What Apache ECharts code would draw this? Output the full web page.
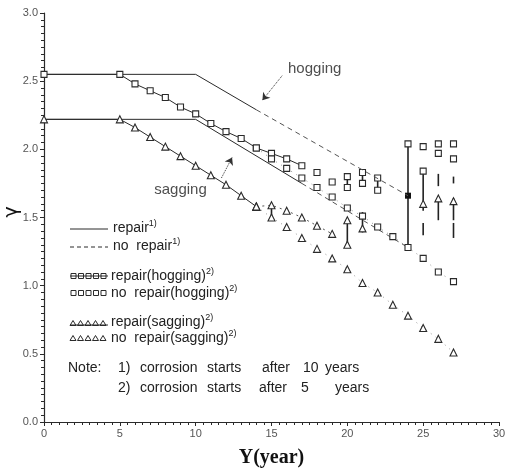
<!DOCTYPE html>
<html>
<head>
<meta charset="utf-8">
<script src="https://cdn.jsdelivr.net/npm/echarts@6/dist/echarts.min.js"></script>
<style>
  html, body { margin: 0; padding: 0; background: #fff; }
  #chart { width: 506px; height: 469px; }
</style>
</head>
<body>
<div id="chart"></div>
<script>
// 10-year corrosion lines (repair / no repair)
const hog10X = [0, 10, 14, 24];
const hog10Y = [2.55, 2.55, 2.29, 1.66];
const sag10X = [0, 10, 17, 24];
const sag10Y = [2.22, 2.22, 1.75, 1.28];

// 5-year corrosion, hogging (squares)
const sqRepX = [0, 5, 6, 7, 8, 9, 10, 11, 12, 13, 14, 15, 16, 17];
const sqRepY = [2.55, 2.55, 2.48, 2.43, 2.38, 2.31, 2.26, 2.19, 2.13, 2.08, 2.01, 1.97, 1.93, 1.88];
const sqRepLateX = [18, 19, 20, 20, 21, 21, 22, 22, 24, 25, 25, 26, 26, 27, 27];
const sqRepLateY = [1.83, 1.76, 1.80, 1.72, 1.83, 1.75, 1.79, 1.70, 2.04, 2.02, 1.84, 2.04, 1.97, 2.04, 1.93];
const sqNoX = [14, 15, 16, 17, 18, 19, 20, 21, 22, 23, 24, 25, 26, 27];
const sqNoY = [2.01, 1.93, 1.86, 1.79, 1.72, 1.65, 1.57, 1.51, 1.43, 1.36, 1.28, 1.20, 1.10, 1.03];

// 5-year corrosion, sagging (triangles)
const triRepX = [0, 5, 6, 7, 8, 9, 10, 11, 12, 13, 14];
const triRepY = [2.22, 2.22, 2.16, 2.09, 2.02, 1.95, 1.88, 1.81, 1.74, 1.66, 1.58];
const triRep2X = [14, 15, 16, 17, 18, 19];
const triRep2Y = [1.58, 1.59, 1.55, 1.50, 1.44, 1.38];
const triRepLateX = [20, 20, 21, 25, 26, 27];
const triRepLateY = [1.48, 1.30, 1.42, 1.60, 1.64, 1.62];
const triNoX = [14, 15, 16, 17, 18, 19, 20, 21, 22, 23, 24, 25, 26, 27];
const triNoY = [1.58, 1.50, 1.43, 1.35, 1.27, 1.20, 1.12, 1.02, 0.95, 0.86, 0.78, 0.69, 0.61, 0.51];

// filled points and repair bars [year, low, high]
const filledX = [15, 24, 24];
const filledY = [1.97, 1.66, 1.28];
const repairBars = [
  [15, 1.49, 1.59], [20, 1.30, 1.48], [20, 1.70, 1.80], [21, 1.39, 1.54], [21, 1.75, 1.83],
  [22, 1.70, 1.79], [24, 1.28, 2.05], [25, 1.55, 1.84], [25, 1.37, 1.46], [26, 1.73, 1.82],
  [26, 1.48, 1.62], [27, 1.75, 1.80], [27, 1.48, 1.64], [27, 1.35, 1.46]
];

const xTicks = [0, 5, 10, 15, 20, 25, 30];
const yTicks = [0.0, 0.5, 1.0, 1.5, 2.0, 2.5, 3.0];

const ink = '#2a2a2a';
const zip = (xs, ys) => xs.map((x, i) => [x, ys[i]]);

const chart = echarts.init(document.getElementById('chart'));

const hollow = { color: '#fff', borderColor: ink, borderWidth: 1.1, opacity: 1 };

// legend drawn by hand (layout of the original figure)
const legendEls = [];
const txt = (x, y, s, size) => ({
  type: 'text', x: x, y: y,
  style: {
    text: s, fill: '#222', verticalAlign: 'middle',
    font: (size || 14) + 'px "Liberation Sans", sans-serif',
    rich: {
      t: { fontSize: size || 14, fontFamily: 'Liberation Sans', fill: '#222', lineHeight: 18 },
      s: { fontSize: 9, fontFamily: 'Liberation Sans', fill: '#222', verticalAlign: 'top', lineHeight: 18 }
    }
  }
});
// y axis title (gamma, turned on its side as in the original)
legendEls.push({ type: 'text', x: 12, y: 212, rotation: Math.PI / 2,
  style: { text: 'γ', fill: '#111', font: '19px "DejaVu Sans", sans-serif', align: 'center', verticalAlign: 'middle' } });
legendEls.push({ type: 'line', shape: { x1: 70, y1: 229, x2: 108, y2: 229 }, style: { stroke: ink, lineWidth: 1 } });
legendEls.push(txt(113, 228, '{t|repair}{s|1)}'));
legendEls.push({ type: 'line', shape: { x1: 70, y1: 247, x2: 108, y2: 247 }, style: { stroke: ink, lineWidth: 1, lineDash: [4, 3] } });
legendEls.push(txt(113, 246, '{t|no  repair}{s|1)}'));
[276, 293].forEach((y, r) => {
  if (r === 0) legendEls.push({ type: 'line', shape: { x1: 70, y1: y, x2: 108, y2: y }, style: { stroke: ink, lineWidth: 1 } });
  for (let i = 0; i < 5; i++) {
    legendEls.push({ type: 'rect', shape: { x: 71 + i * 7.5, y: y - 2.5, width: 5, height: 5 }, style: { fill: 'none', stroke: ink, lineWidth: 1 } });
  }
});
legendEls.push(txt(111, 276, '{t|repair(hogging)}{s|2)}'));
legendEls.push(txt(111, 293, '{t|no  repair(hogging)}{s|2)}'));
[323, 338].forEach((y, r) => {
  if (r === 0) legendEls.push({ type: 'line', shape: { x1: 70, y1: y + 2, x2: 108, y2: y + 2 }, style: { stroke: ink, lineWidth: 1 } });
  for (let i = 0; i < 5; i++) {
    const cx = 73 + i * 7.5;
    legendEls.push({ type: 'polygon', shape: { points: [[cx, y - 2.5], [cx - 3, y + 2.5], [cx + 3, y + 2.5]] }, style: { fill: 'none', stroke: ink, lineWidth: 1 } });
  }
});
legendEls.push(txt(111, 322, '{t|repair(sagging)}{s|2)}'));
legendEls.push(txt(111, 338, '{t|no  repair(sagging)}{s|2)}'));
// note lines, words spread out like the original
[['Note:', 68], ['1)', 118], ['corrosion', 140], ['starts', 207], ['after', 262], ['10', 303], ['years', 325]]
  .forEach(w => legendEls.push(txt(w[1], 368, '{t|' + w[0] + '}')));
[['2)', 118], ['corrosion', 140], ['starts', 207], ['after', 259], ['5', 301], ['years', 335]]
  .forEach(w => legendEls.push(txt(w[1], 388, '{t|' + w[0] + '}')));

const option = {
  backgroundColor: '#fff',
  animation: false,
  grid: { left: 44, right: 7, top: 13, bottom: 47, outerBoundsMode: 'none' },
  xAxis: {
    type: 'value', min: 0, max: 30, interval: 5,
    name: 'Y(year)', nameLocation: 'middle', nameGap: 26,
    nameTextStyle: { fontFamily: 'Liberation Serif', fontWeight: 'bold', fontSize: 20, color: '#111' },
    axisLine: { lineStyle: { color: ink, width: 1.2 } },
    axisTick: { length: 4, lineStyle: { color: ink } },
    minorTick: { show: true, splitNumber: 10, length: 3, lineStyle: { color: ink } },
    axisLabel: { color: '#555', fontSize: 11, fontFamily: 'Liberation Sans', margin: 6,
      formatter: v => xTicks.indexOf(v) >= 0 ? String(v) : '' },
    splitLine: { show: false }
  },
  yAxis: {
    type: 'value', min: 0, max: 3, interval: 0.5,
    axisLine: { show: true, lineStyle: { color: ink, width: 1.2 } },
    axisTick: { show: true, length: 4, lineStyle: { color: ink } },
    minorTick: { show: true, splitNumber: 10, length: 3, lineStyle: { color: ink } },
    axisLabel: { color: '#555', fontSize: 11, fontFamily: 'Liberation Sans', margin: 6,
      formatter: v => yTicks.indexOf(v) >= 0 ? v.toFixed(1) : '' },
    splitLine: { show: false }
  },
  graphic: legendEls,
  series: [
    { name: 'hog10 repair', type: 'line', data: zip(hog10X.slice(0, 3), hog10Y.slice(0, 3)), showSymbol: false,
      lineStyle: { color: ink, width: 1 } },
    { name: 'hog10 no repair', type: 'line', data: zip(hog10X.slice(2), hog10Y.slice(2)), showSymbol: false,
      lineStyle: { color: '#555', width: 1, type: [5, 4] } },
    { name: 'sag10 repair', type: 'line', data: zip(sag10X.slice(0, 3), sag10Y.slice(0, 3)), showSymbol: false,
      lineStyle: { color: ink, width: 1 } },
    { name: 'sag10 no repair', type: 'line', data: zip(sag10X.slice(2), sag10Y.slice(2)), showSymbol: false,
      lineStyle: { color: '#555', width: 1, type: [5, 4] } },
    { name: 'repair(hogging)', type: 'line', data: zip(sqRepX, sqRepY), symbol: 'rect', symbolSize: 6,
      itemStyle: hollow, lineStyle: { color: ink, width: 1 } },
    { name: 'repair(hogging) late', type: 'scatter', data: zip(sqRepLateX, sqRepLateY), symbol: 'rect', symbolSize: 6,
      itemStyle: hollow },
    { name: 'no repair(hogging)', type: 'line', data: zip(sqNoX, sqNoY), symbol: 'rect', symbolSize: 6,
      itemStyle: hollow, lineStyle: { color: '#777', width: 0.8, type: [1, 5] } },
    { name: 'repair(sagging)', type: 'line', data: zip(triRepX, triRepY), symbol: 'triangle', symbolSize: 7,
      itemStyle: hollow, lineStyle: { color: ink, width: 1 } },
    { name: 'repair(sagging) 2', type: 'line', data: zip(triRep2X, triRep2Y), symbol: 'triangle', symbolSize: 7,
      itemStyle: hollow, lineStyle: { color: '#555', width: 1, type: [2, 4] } },
    { name: 'repair(sagging) late', type: 'scatter', data: zip(triRepLateX, triRepLateY), symbol: 'triangle', symbolSize: 7,
      itemStyle: hollow },
    { name: 'no repair(sagging)', type: 'line', data: zip(triNoX, triNoY), symbol: 'triangle', symbolSize: 7,
      itemStyle: hollow, lineStyle: { color: '#777', width: 0.8, type: [1, 5] } },
    { name: 'filled', type: 'scatter', data: zip(filledX, filledY), symbol: 'rect', symbolSize: 6,
      itemStyle: { color: '#111', opacity: 1 } },
    { name: 'repair bars', type: 'custom', data: repairBars,
      renderItem: (params, api) => {
        const p1 = api.coord([api.value(0), api.value(1)]);
        const p2 = api.coord([api.value(0), api.value(2)]);
        return { type: 'line', shape: { x1: p1[0], y1: p1[1], x2: p2[0], y2: p2[1] },
          style: { stroke: '#222', lineWidth: 1.6 } };
      },
      z: 1 },
    { name: 'labels', type: 'scatter', symbolSize: 0,
      data: [[17.85, 2.59, 'hogging'], [9.0, 1.70, 'sagging']],
      label: { show: true, position: 'inside', formatter: p => p.data[2],
        fontFamily: 'Liberation Sans', fontSize: 15, color: '#222' },
      markLine: {
        silent: true, symbol: ['none', 'arrow'], symbolSize: 7, label: { show: false },
        lineStyle: { color: '#333', width: 1, type: 'dotted' },
        data: [
          [{ coord: [15.7, 2.54] }, { coord: [14.4, 2.36] }],
          [{ coord: [11.7, 1.79] }, { coord: [12.4, 1.94] }]
        ]
      } }
  ]
};
chart.setOption(option);
</script>
</body>
</html>
